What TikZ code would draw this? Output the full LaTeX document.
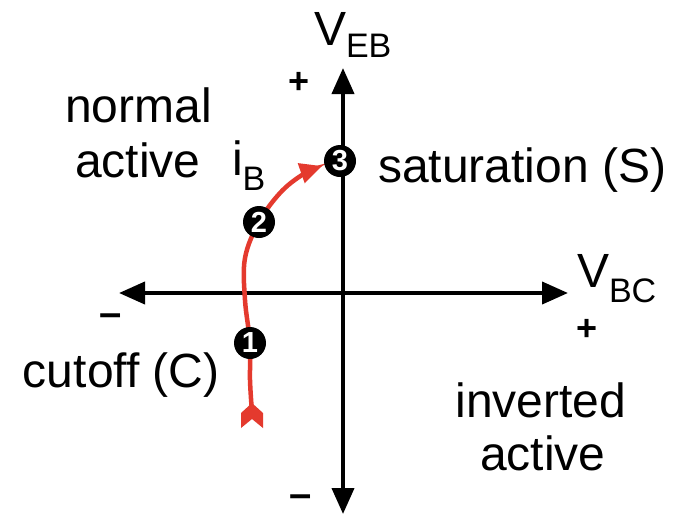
\documentclass[tikz,border=0pt]{standalone}
\usepackage{fontspec}
\setmainfont{Liberation Sans}
\usetikzlibrary{arrows.meta}
\definecolor{ibred}{RGB}{228,58,46}
\newcommand{\bigf}{\fontsize{48}{55}\selectfont}
\newcommand{\subf}{\fontsize{34}{40}\selectfont}
\tikzset{
  lbl/.style={inner sep=0pt, outer sep=0pt, font=\bigf},
  sgn/.style={inner sep=0pt, outer sep=0pt, font=\fontsize{36}{40}\selectfont\bfseries},
  axis/.style={line width=4pt, {Triangle[length=26pt,width=22pt]}-{Triangle[length=26pt,width=22pt]}},
  ib/.style={draw=ibred, line width=4.5pt, -{Triangle[length=22pt,width=20pt]}},
  num/.style={circle, fill=black, minimum size=32pt, inner sep=0pt, text=white, font=\fontsize{29}{29}\selectfont\bfseries},
}
\begin{document}
\begin{tikzpicture}[x=1pt,y=-1pt]
\useasboundingbox[fill=white] (0,0) rectangle (686,515);
% axes
\coordinate (L) at (119,293);
\coordinate (R) at (568,293);
\coordinate (T) at (343,68);
\coordinate (B) at (343,514);
\draw[axis] (L) -- (R);
\draw[axis] (B) -- (T);
% axis labels
\node[lbl, anchor=base west] (veb) at (314,45) {V\raisebox{-12pt}{\subf EB}};
\node[lbl, anchor=base west] (vbc) at (577,287) {V\raisebox{-15pt}{\subf BC}};
\node[sgn] (ptop) at (299,83) {+};
\node[sgn] (pright) at (587,330) {+};
\node[sgn, font=\fontsize{40}{40}\selectfont\bfseries, anchor=base] (mleft) at (111,326) {–};
\node[sgn, font=\fontsize{40}{40}\selectfont\bfseries, anchor=base] (mbot) at (301,507) {–};
% region labels
\node[lbl, anchor=base west] (normal) at (65,122) {normal};
\node[lbl, anchor=base west] (nact) at (75,177) {active};
\node[lbl, anchor=base west] (sat) at (378,182) {saturation (S)};
\node[lbl, anchor=base west] (cut) at (23,387) {cutoff (C)};
\node[lbl, anchor=base] (inv) at (541,417) {inverted};
\node[lbl, anchor=base] (iact) at (543,470) {active};
\node[lbl, anchor=base west] (iB) at (232,175) {i\raisebox{-15pt}{\subf B}};
% points
\coordinate (n1c) at (250,343);
\coordinate (n2c) at (259,222);
\coordinate (n3c) at (340,161);
\coordinate (tail) at (252,412);
\coordinate (ibend) at (322,166);
% red i_B path
\draw[ib] plot[smooth, tension=0.6] coordinates {(tail) (250,380) (n1c) (245,300) (245,258) (n2c) (280,193) (302,175) (ibend)};
\fill[ibred] (252,403) -- (263,413) -- (263,428) -- (252,419) -- (241,428) -- (241,413) -- cycle;
% numbered points
\node[num] (n1) at (n1c) {1};
\node[num] (n2) at (n2c) {2};
\node[num] (n3) at (n3c) {3};
\end{tikzpicture}
\end{document}
